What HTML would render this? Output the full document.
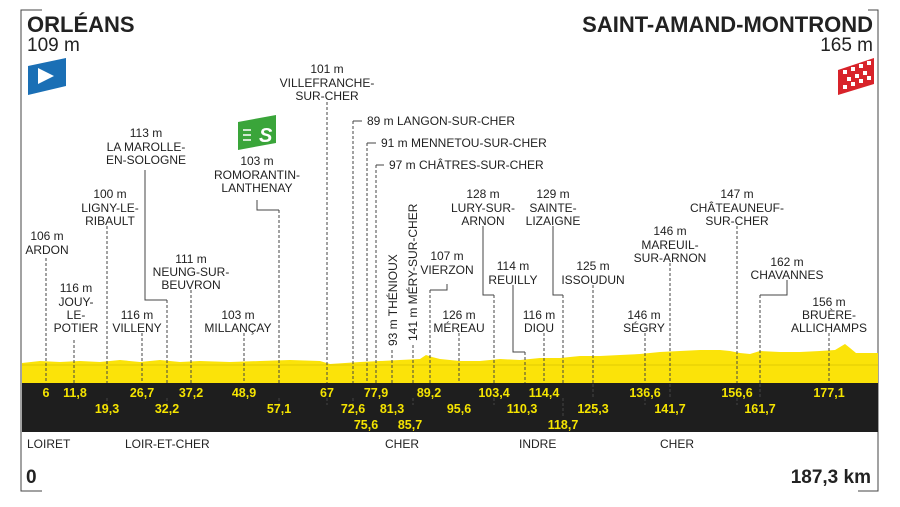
<!DOCTYPE html>
<html><head><meta charset="utf-8"><style>
body{margin:0;background:#fff}
svg{display:block}
text{font-family:"Liberation Sans",sans-serif;fill:#222}
.t text{font-size:12px;text-anchor:middle}
.k text{font-size:12.5px;font-weight:bold;fill:#f5e400;text-anchor:middle}
.d{stroke:#444;stroke-width:1;stroke-dasharray:3,2;fill:none}
.s{stroke:#444;stroke-width:1;fill:none}
</style></head><body>
<svg width="900" height="507" viewBox="0 0 900 507">
<path d="M42 10H21V491H42" class="s" stroke-width="1.2"/>
<path d="M868 10H878V491H858" class="s" stroke-width="1.2"/>
<text x="27" y="32" style="font-size:22px;font-weight:bold">ORLÉANS</text>
<text x="27" y="51" style="font-size:19px">109 m</text>
<text x="873" y="32" style="font-size:22px;font-weight:bold;text-anchor:end">SAINT-AMAND-MONTROND</text>
<text x="873" y="51" style="font-size:19px;text-anchor:end">165 m</text>
<path d="M28 66L66 58V86L28 95Z" fill="#1a6fb5"/><path d="M38 68L54 76L38 84Z" fill="#fff"/>
<path d="M838 70L874 58V84L838 95Z" fill="#d8232a"/>
<g fill="#fff"><rect x="843" y="70" width="4" height="4"/><rect x="851" y="67" width="4" height="4"/><rect x="859" y="64" width="4" height="4"/><rect x="867" y="61" width="4" height="4"/><rect x="847" y="77" width="4" height="4"/><rect x="855" y="74" width="4" height="4"/><rect x="863" y="71" width="4" height="4"/><rect x="843" y="85" width="4" height="4"/><rect x="851" y="82" width="4" height="4"/><rect x="859" y="79" width="4" height="4"/><rect x="867" y="76" width="4" height="4"/></g>
<path d="M238 122L276 115V143L238 150Z" fill="#3aa53a"/>
<text x="259" y="142" style="font-size:20px;font-weight:bold;fill:#fff;font-style:italic">S</text>
<path d="M243 130h8M243 135h8M243 140h8" stroke="#fff" stroke-width="1.5"/>
<path d="M22 383V363L40 361L60 362L80 361L100 362L120 360L140 362L160 360L180 362L200 361L230 362L260 361L290 360L320 361L330 364L345 363L360 362L380 361L400 360L420 359L426 355L432 357L440 359L460 361L480 361L500 359L520 360L540 358L560 358L580 356L600 356L620 355L640 354L660 352L680 351L700 350L720 350L730 351L740 353L750 354L760 351L780 352L800 352L820 351L835 350L840 347L845 344L850 348L856 353L878 353V383Z" fill="#fbe309"/>
<line x1="22" y1="365" x2="878" y2="365" stroke="#c8b400" stroke-width="0.6"/>
<rect x="22" y="383" width="856" height="49" fill="#1e1e1e"/>
<g class="d">
<path d="M46 258V383M74 340V383M107 226V383M142 333V383M167 300V383M191 290V383M244 333V383M279 210V383M327 102V383M353 121V383M367 143V383M376 165V383M392 350V383M413 345V383M430 290V383M459 333V383M494 295V383M525 352V383M544 333V383M563 295V383M593 285V383M645 333V383M670 263V383M737 226V383M760 295V383M829 333V383"/>
</g>
<g class="d" stroke="#777">
<path d="M107 398V405M167 398V405M279 398V405M327 398V405M353 398V405M413 398V405M494 398V405M563 398V418M593 384V398M645 398V405M670 384V398M737 398V405M760 384V398"/>
</g>
<g class="s">
<path d="M145 170V300H167M257 200V210H279M353 121H362M367 143H376M376 165H384M447 284V290H430M483 226V295H494M513 285V352H525M553 226V295H563M787 280V295H760"/>
</g>
<g class="t">
<text x="47" y="240">106 m</text><text x="47" y="254">ARDON</text>
<text x="76" y="292">116 m</text><text x="76" y="306">JOUY-</text><text x="76" y="319">LE-</text><text x="76" y="332">POTIER</text>
<text x="110" y="198">100 m</text><text x="110" y="212">LIGNY-LE-</text><text x="110" y="225">RIBAULT</text>
<text x="137" y="319">116 m</text><text x="137" y="332">VILLENY</text>
<text x="146" y="137">113 m</text><text x="146" y="151">LA MAROLLE-</text><text x="146" y="164">EN-SOLOGNE</text>
<text x="191" y="263">111 m</text><text x="191" y="276">NEUNG-SUR-</text><text x="191" y="289">BEUVRON</text>
<text x="238" y="319">103 m</text><text x="238" y="332">MILLANÇAY</text>
<text x="257" y="165">103 m</text><text x="257" y="179">ROMORANTIN-</text><text x="257" y="192">LANTHENAY</text>
<text x="327" y="73">101 m</text><text x="327" y="87">VILLEFRANCHE-</text><text x="327" y="100">SUR-CHER</text>
<text x="447" y="260">107 m</text><text x="447" y="274">VIERZON</text>
<text x="459" y="319">126 m</text><text x="459" y="332">MÉREAU</text>
<text x="483" y="198">128 m</text><text x="483" y="212">LURY-SUR-</text><text x="483" y="225">ARNON</text>
<text x="513" y="270">114 m</text><text x="513" y="284">REUILLY</text>
<text x="539" y="319">116 m</text><text x="539" y="332">DIOU</text>
<text x="553" y="198">129 m</text><text x="553" y="212">SAINTE-</text><text x="553" y="225">LIZAIGNE</text>
<text x="593" y="270">125 m</text><text x="593" y="284">ISSOUDUN</text>
<text x="644" y="319">146 m</text><text x="644" y="332">SÉGRY</text>
<text x="670" y="235">146 m</text><text x="670" y="249">MAREUIL-</text><text x="670" y="262">SUR-ARNON</text>
<text x="737" y="198">147 m</text><text x="737" y="212">CHÂTEAUNEUF-</text><text x="737" y="225">SUR-CHER</text>
<text x="787" y="266">162 m</text><text x="787" y="279">CHAVANNES</text>
<text x="829" y="306">156 m</text><text x="829" y="319">BRUÈRE-</text><text x="829" y="332">ALLICHAMPS</text>
</g>
<g style="font-size:12px">
<text x="367" y="125">89 m LANGON-SUR-CHER</text>
<text x="381" y="147">91 m MENNETOU-SUR-CHER</text>
<text x="389" y="169">97 m CHÂTRES-SUR-CHER</text>
<text transform="translate(397,346) rotate(-90)">93 m THÉNIOUX</text>
<text transform="translate(417,341) rotate(-90)">141 m MÉRY-SUR-CHER</text>
</g>
<g class="k">
<text x="46" y="397">6</text><text x="75" y="397">11,8</text><text x="107" y="413">19,3</text>
<text x="142" y="397">26,7</text><text x="167" y="413">32,2</text><text x="191" y="397">37,2</text>
<text x="244" y="397">48,9</text><text x="279" y="413">57,1</text><text x="327" y="397">67</text>
<text x="353" y="413">72,6</text><text x="366" y="429">75,6</text><text x="376" y="397">77,9</text>
<text x="392" y="413">81,3</text><text x="410" y="429">85,7</text><text x="429" y="397">89,2</text>
<text x="459" y="413">95,6</text><text x="494" y="397">103,4</text><text x="522" y="413">110,3</text>
<text x="544" y="397">114,4</text><text x="563" y="429">118,7</text><text x="593" y="413">125,3</text>
<text x="645" y="397">136,6</text><text x="670" y="413">141,7</text><text x="737" y="397">156,6</text>
<text x="760" y="413">161,7</text><text x="829" y="397">177,1</text>
</g>
<g style="font-size:12px">
<text x="27" y="448">LOIRET</text><text x="125" y="448">LOIR-ET-CHER</text><text x="385" y="448">CHER</text><text x="519" y="448">INDRE</text><text x="660" y="448">CHER</text>
</g>
<text x="26" y="483" style="font-size:19px;font-weight:bold">0</text>
<text x="871" y="483" style="font-size:19px;font-weight:bold;text-anchor:end">187,3 km</text>
</svg>
</body></html>
